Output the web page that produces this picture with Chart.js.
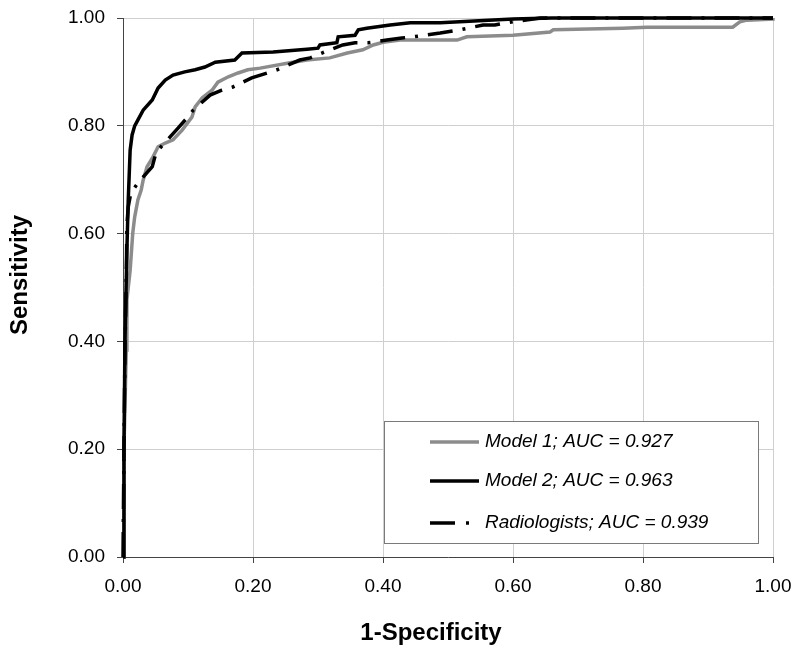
<!DOCTYPE html>
<html>
<head>
<meta charset="utf-8">
<script src="https://cdn.jsdelivr.net/npm/chart.js@4.4.1/dist/chart.umd.min.js"></script>
<style>
    html, body { margin: 0; padding: 0; background: #fff; }
    #wrap { width: 800px; height: 653px; }
</style>
</head>
<body>
<div id="wrap"><canvas id="rocChart" width="800" height="653"></canvas></div>
<script>
// Values (1-specificity, sensitivity)
var model1X = [ 0, 0.0015, 0.005, 0.006, 0.011, 0.015, 0.018, 0.023, 0.028, 0.031, 0.037, 0.046, 0.054, 0.065, 0.077, 0.091, 0.106, 0.111, 0.122, 0.137, 0.146, 0.162, 0.177, 0.192, 0.211, 0.257, 0.283, 0.318, 0.345, 0.369, 0.385, 0.40, 0.426, 0.514, 0.529, 0.60, 0.657, 0.662, 0.769, 0.806, 0.938, 0.949, 0.96, 1.0, 1.0 ];
var model1Y = [ 0, 0.20, 0.384, 0.477, 0.532, 0.601, 0.631, 0.663, 0.681, 0.699, 0.724, 0.742, 0.761, 0.768, 0.774, 0.792, 0.816, 0.835, 0.852, 0.866, 0.881, 0.891, 0.898, 0.904, 0.907, 0.917, 0.922, 0.926, 0.935, 0.941, 0.950, 0.955, 0.959, 0.959, 0.965, 0.968, 0.974, 0.978, 0.981, 0.983, 0.983, 0.993, 0.996, 0.998, 1.0 ];

var model2X = [ 0, 0.0015, 0.003, 0.006, 0.008, 0.011, 0.014, 0.018, 0.023, 0.031, 0.045, 0.054, 0.065, 0.077, 0.095, 0.111, 0.126, 0.142, 0.172, 0.183, 0.231, 0.283, 0.30, 0.303, 0.329, 0.331, 0.357, 0.362, 0.375, 0.411, 0.442, 0.488, 0.60, 0.66, 1.0 ];
var model2Y = [ 0, 0.20, 0.40, 0.57, 0.66, 0.755, 0.783, 0.80, 0.811, 0.829, 0.848, 0.870, 0.885, 0.894, 0.900, 0.904, 0.909, 0.918, 0.922, 0.935, 0.937, 0.942, 0.944, 0.950, 0.954, 0.965, 0.968, 0.978, 0.981, 0.987, 0.991, 0.991, 0.998, 1.0, 1.0 ];

var radX = [ 0, 0.0015, 0.003, 0.005, 0.006, 0.008, 0.012, 0.023, 0.045, 0.051, 0.085, 0.098, 0.108, 0.134, 0.152, 0.169, 0.198, 0.222, 0.237, 0.272, 0.288, 0.306, 0.338, 0.357, 0.377, 0.406, 0.429, 0.446, 0.488, 0.518, 0.554, 0.572, 0.60, 0.642, 1.0 ];
var radY = [ 0, 0.20, 0.384, 0.514, 0.616, 0.649, 0.675, 0.694, 0.724, 0.751, 0.796, 0.814, 0.829, 0.857, 0.866, 0.872, 0.889, 0.898, 0.904, 0.922, 0.926, 0.935, 0.950, 0.954, 0.954, 0.959, 0.963, 0.965, 0.972, 0.978, 0.987, 0.987, 0.993, 1.0, 1.0 ];

var seriesLabels = [ 'Model 1; AUC = 0.927', 'Model 2; AUC = 0.963', 'Radiologists; AUC = 0.939' ];
var xTitle = '1-Specificity';
var yTitle = 'Sensitivity';

var FONT = '"Liberation Sans", Arial, sans-serif';

function toPoints ( xs, ys )
{
    var pts = [];
    for ( var i = 0; i < xs.length; i++ )
    {
        pts.push( { x: xs[ i ], y: ys[ i ] } );
    }
    return pts;
}

// legend box drawn inside the plot, lower right
var boxLegend = {
    id: 'boxLegend',
    afterDatasetsDraw: function ( chart )
    {
        var ctx = chart.ctx;
        var sets = chart.data.datasets;
        var left = 384, top = 421, w = 374, h = 122;
        var rows = [ 442, 481, 523 ];

        ctx.save();
        ctx.fillStyle = '#fff';
        ctx.fillRect( left, top, w, h );
        ctx.strokeStyle = '#7a7a7a';
        ctx.lineWidth = 1;
        ctx.strokeRect( left + 0.5, top + 0.5, w, h );

        for ( var i = 0; i < sets.length; i++ )
        {
            var ds = sets[ i ];
            var y = rows[ i ];
            ctx.strokeStyle = ds.borderColor;
            ctx.lineWidth = ds.borderWidth;
            ctx.lineCap = 'butt';
            if ( ds.borderDash )
            {
                // dash then dot, as in the reference key
                ctx.beginPath();
                ctx.moveTo( 430, y );
                ctx.lineTo( 455, y );
                ctx.moveTo( 466, y );
                ctx.lineTo( 469, y );
                ctx.stroke();
            } else
            {
                ctx.beginPath();
                ctx.moveTo( 430, y );
                ctx.lineTo( 479, y );
                ctx.stroke();
            }
            ctx.fillStyle = '#000';
            ctx.font = 'italic 19px ' + FONT;
            ctx.textAlign = 'left';
            ctx.textBaseline = 'middle';
            ctx.fillText( ds.label, 485, y );
        }
        ctx.restore();
    }
};

// axis titles placed where the reference has them
var axisTitles = {
    id: 'axisTitles',
    afterDraw: function ( chart )
    {
        var ctx = chart.ctx;
        ctx.save();
        ctx.fillStyle = '#000';
        ctx.font = 'bold 24px ' + FONT;
        ctx.textAlign = 'center';
        ctx.textBaseline = 'alphabetic';
        ctx.fillText( xTitle, 431, 640 );

        ctx.translate( 27, 275 );
        ctx.rotate( -Math.PI / 2 );
        ctx.fillText( yTitle, 0, 0 );
        ctx.restore();
    }
};

document.addEventListener( 'DOMContentLoaded', function ()
{
    var canvas = document.getElementById( 'rocChart' );

    var tickFmt = function ( v ) { return Number( v ).toFixed( 2 ); };

    new Chart( canvas.getContext( '2d' ), {
        type: 'scatter',
        data: {
            datasets: [ {
                label: seriesLabels[ 0 ],
                data: toPoints( model1X, model1Y ),
                borderColor: '#8c8c8c',
                borderWidth: 3.5,
                order: 3
            }, {
                label: seriesLabels[ 1 ],
                data: toPoints( model2X, model2Y ),
                borderColor: '#000',
                borderWidth: 3.5,
                order: 1
            }, {
                label: seriesLabels[ 2 ],
                data: toPoints( radX, radY ),
                borderColor: '#000',
                borderWidth: 3.5,
                borderDash: [ 25, 10, 3, 10 ],
                order: 2
            } ]
        },
        options: {
            responsive: false,
            animation: false,
            showLine: true,
            layout: { padding: { left: 0, right: 27, top: 18, bottom: 0 } },
            elements: {
                point: { radius: 0, hoverRadius: 0 },
                line: { tension: 0, fill: false }
            },
            datasets: { scatter: { clip: false } },
            plugins: {
                legend: { display: false },
                tooltip: { enabled: false }
            },
            scales: {
                x: {
                    type: 'linear',
                    min: 0,
                    max: 1,
                    afterFit: function ( scale )
                    {
                        scale.height = 96;
                        scale.paddingLeft = 0;
                        scale.paddingRight = 0;
                    },
                    ticks: {
                        stepSize: 0.2,
                        padding: 12,
                        color: '#000',
                        font: { family: FONT, size: 19 },
                        maxRotation: 0,
                        callback: tickFmt
                    },
                    grid: { color: '#cfcfcf', lineWidth: 1, tickLength: 6, tickColor: '#444' },
                    border: { color: '#444', width: 1 }
                },
                y: {
                    type: 'linear',
                    min: 0,
                    max: 1,
                    afterFit: function ( scale )
                    {
                        scale.width = 123;
                        scale.paddingTop = 0;
                        scale.paddingBottom = 0;
                    },
                    ticks: {
                        stepSize: 0.2,
                        padding: 12,
                        color: '#000',
                        font: { family: FONT, size: 19 },
                        callback: tickFmt
                    },
                    grid: { color: '#cfcfcf', lineWidth: 1, tickLength: 6, tickColor: '#444' },
                    border: { color: '#444', width: 1 }
                }
            }
        },
        plugins: [ boxLegend, axisTitles ]
    } );
} );
</script>
</body>
</html>
